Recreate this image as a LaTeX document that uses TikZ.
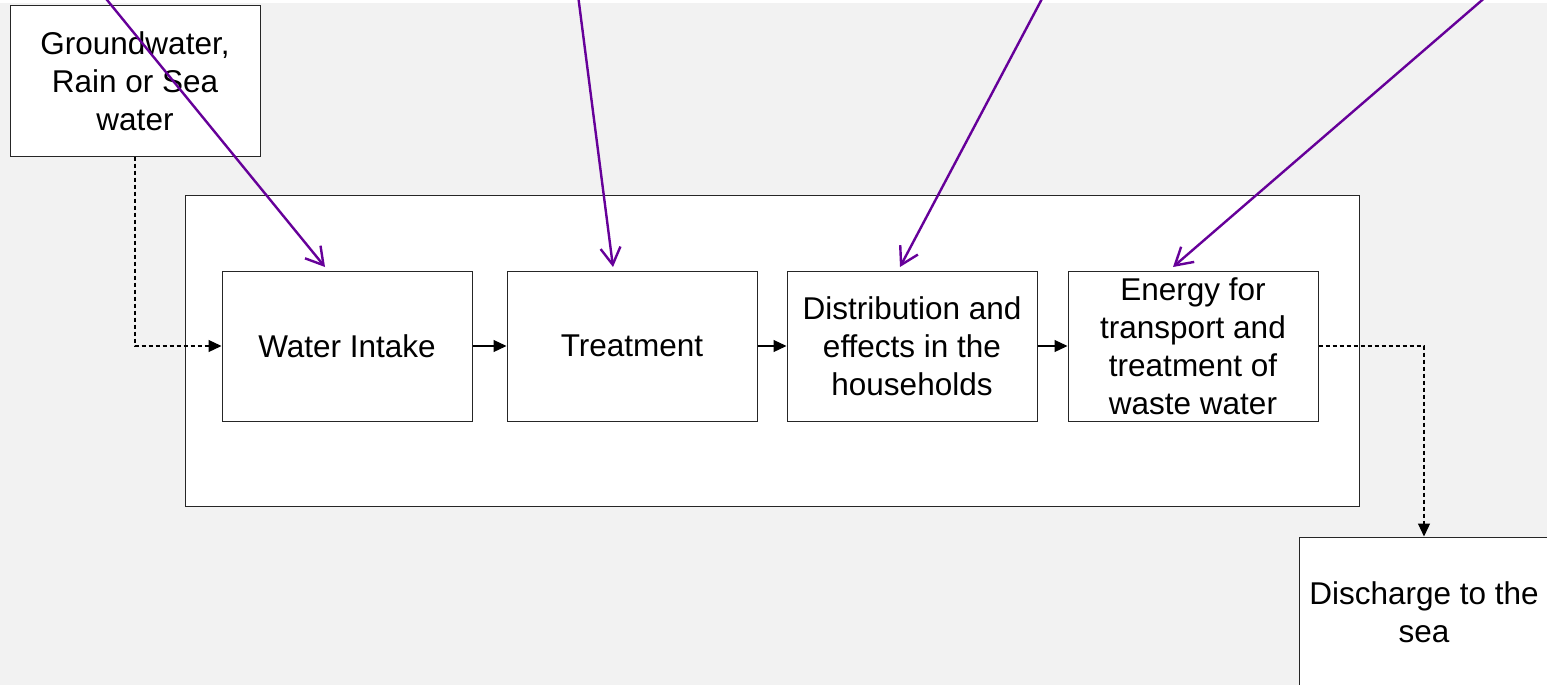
\documentclass[tikz,border=0pt]{standalone}
\usepackage{fontspec}
\setmainfont{Liberation Sans}
\usetikzlibrary{arrows.meta}
\definecolor{bggray}{RGB}{242,242,242}
\definecolor{arrowpurple}{RGB}{102,0,153}
\tikzset{
  procbox/.style={draw=black!85, line width=1pt, fill=white, minimum width=250pt, minimum height=150pt, inner sep=0pt, align=center, font=\fontsize{31.5}{38}\selectfont},
  flowarrow/.style={draw=black, line width=1.2pt, -{Triangle[length=13pt,width=12pt]}},
  dasharrow/.style={flowarrow, dash pattern=on 4pt off 3pt},
  influence/.style={draw=arrowpurple, line width=2.4pt, -{Straight Barb[length=17pt,width=20pt,line width=2.4pt]}}
}
\begin{document}
\begin{tikzpicture}[x=1pt,y=-1pt]
\useasboundingbox (0,0) rectangle (1547,685);
\clip (0,0) rectangle (1547,685);
\fill[white] (0,0) rectangle (1547,685);
\fill[bggray] (0,3) rectangle (1547,685);

\node[procbox] (src) at (135,81) {Groundwater,\\Rain or Sea\\water};
\node[draw=black!85, line width=1pt, fill=white, minimum width=1174pt, minimum height=311pt, inner sep=0pt] (frame) at (772,350.5) {};
\node[procbox] (wi) at (347,346) {Water Intake};
\node[procbox] (tr) at (632,346) {Treatment};
\node[procbox] (di) at (912,346) {Distribution and\\effects in the\\households};
\node[procbox] (en) at (1193,346) {Energy for\\transport and\\treatment of\\waste water};
\node[procbox] (ds) at (1424,612) {Discharge to the\\sea};

\draw[dasharrow] (src.south) |- (wi.west);
\draw[flowarrow] (wi.east) -- (tr.west);
\draw[flowarrow] (tr.east) -- (di.west);
\draw[flowarrow] (di.east) -- (en.west);
\draw[dasharrow] (en.east) -| (ds.north);

\coordinate (p1) at (103,-5);
\coordinate (p2) at (578,-5);
\coordinate (p3) at (1044,-5);
\coordinate (p4) at (1488,-5);
\coordinate (t1) at (325,267);
\coordinate (t2) at (613,267);
\coordinate (t3) at (900,267);
\coordinate (t4) at (1173,267);
\draw[influence] (p1) -- (t1);
\draw[influence] (p2) -- (t2);
\draw[influence] (p3) -- (t3);
\draw[influence] (p4) -- (t4);
\end{tikzpicture}
\end{document}
